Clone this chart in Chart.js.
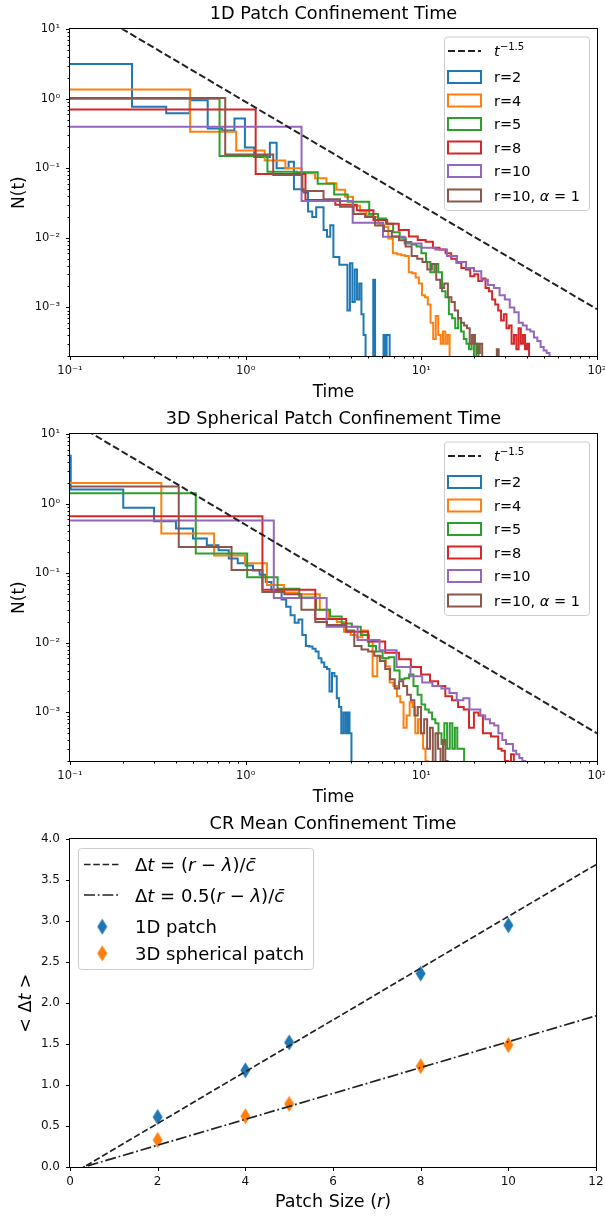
<!DOCTYPE html>
<html>
<head>
<meta charset="utf-8">
<script src="https://cdn.jsdelivr.net/npm/chart.js@4.4.1/dist/chart.umd.min.js"></script>
<style>
  body { margin: 0; background: #fff; }
  .panel { position: absolute; left: 0; width: 605px; }
</style>
</head>
<body>
<div class="panel" style="top:0;height:405px"><canvas id="Chart1D"></canvas></div>
<div class="panel" style="top:405px;height:405px"><canvas id="Chart3D"></canvas></div>
<div class="panel" style="top:810px;height:406px"><canvas id="ChartMean"></canvas></div>
<script>
// ---- data ----
var seriesLabels = ['r=2', 'r=4', 'r=5', 'r=8', 'r=10', 'r=10, α=1'];
var seriesColors = ['#1f77b4', '#ff7f0e', '#2ca02c', '#d62728', '#9467bd', '#8c564b'];

// 1D patch: histogram bin start / bin width per series, then bin heights
var start1D = [0.098, 0.083, 0.09, 0.09, 0.095, 0.095];
var width1D = [0.1275, 0.4, 0.62, 1.05, 1.985, 0.67];
var n1D_r2 = [3.16, 0.77, 0.62, 0.95, 0.375, 0.35, 0.52, 0.2, 0.146, 0.146, 0.233, 0.1, 0.1, 0.124, 0.05, 0.05, 0.045, 0.024, 0.02, 0.0275, 0.0275, 0.013, 0.0104, 0.0152, 0.0053, 0.0053, 0.0041, 0.0041, 0.0041, 0.0009, 0.0043, 0.0012, 0.0035, 0.0013, 0.0022, 0.0008, 0.0004, 0, 0, 0, 0, 0.0025, 0, 0, 0, 0, 0, 0.0004, 0, 0.0004, 0.0004];
var n1D_r4 = [1.36, 0.335, 0.18, 0.13, 0.1, 0.085, 0.072, 0.061, 0.049, 0.039, 0.029, 0.024, 0.021, 0.02, 0.016, 0.0145, 0.0098, 0.006, 0.0058, 0.0056, 0.0055, 0.0032, 0.0031, 0.0027, 0.0022, 0.0015, 0.0014, 0.0011, 0.0006, 0.00035, 0.00075, 0.0004, 0.0003, 0.00045, 0.0003, 0.0004];
var n1D_r5 = [1.0, 0.15, 0.089, 0.088, 0.06, 0.042, 0.033, 0.033, 0.022, 0.019, 0.016, 0.012, 0.01, 0.0087, 0.008, 0.0075, 0.006, 0.0045, 0.0032, 0.0042, 0.0032, 0.0017, 0.0014, 0.0008, 0.0007, 0.0005, 0.0007, 0.00045, 0.00035, 0.0003, 0.00025, 0.0004, 0, 0.0003];
var n1D_r8 = [0.70, 0.083, 0.035, 0.03, 0.025, 0.018, 0.016, 0.013, 0.0105, 0.0093, 0.0088, 0.0072, 0.0068, 0.006, 0.005, 0.0044, 0.0037, 0.0035, 0.0028, 0.003, 0.0024, 0.0026, 0.0019, 0.0017, 0.0013, 0.0011, 0.0009, 0.00065, 0.0008, 0.0005, 0.00055, 0.0003, 0.0004, 0.00025, 0.0005, 0.0003, 0.0004, 0.00025, 0.0003];
var n1D_r10 = [0.395, 0.034, 0.0165, 0.0104, 0.0083, 0.0072, 0.0068, 0.0055, 0.0045, 0.0037, 0.0033, 0.0025, 0.0021, 0.0019, 0.0015, 0.0013, 0.001, 0.00085, 0.0006, 0.00055, 0.00048, 0.00045, 0.00037, 0.00033, 0.00027, 0.00024, 0.00022];
var n1D_r10a = [1.03, 0.158, 0.08, 0.047, 0.036, 0.028, 0.022, 0.02, 0.015, 0.0125, 0.0105, 0.0092, 0.0075, 0.0055, 0.005, 0.0045, 0.0035, 0.0042, 0.0025, 0.0019, 0.0022, 0.0014, 0.0012, 0.0009, 0.0007, 0.0006, 0.00055, 0.0005, 0.0003, 0.0004, 0.0003, 0.00022, 0.0003, 0, 0, 0, 0, 0, 0, 0, 0.00025];

// 3D spherical patch
var start3D = [0.001, 0.001, 0.02, 0.001, 0.001, 0.001];
var width3D = [0.1, 0.33, 0.5, 1.245, 1.445, 0.415];
var n3D_r2 = [4.9, 1.6, 0.88, 0.56, 0.44, 0.316, 0.254, 0.215, 0.164, 0.139, 0.13, 0.11, 0.095, 0.075, 0.058, 0.055, 0.042, 0.033, 0.025, 0.0194, 0.0216, 0.013, 0.009, 0.0089, 0.0082, 0.0075, 0.006, 0.0052, 0.0045, 0.0042, 0.002, 0.0037, 0.0033, 0.0016, 0.0012, 0.0005, 0.001, 0.0005, 0.001, 0.0005];
var n3D_r4 = [1.99, 0.373, 0.18, 0.14, 0.068, 0.053, 0.05, 0.05, 0.03, 0.022, 0.02, 0.0145, 0.013, 0.012, 0.015, 0.0105, 0.0033, 0.0064, 0.006, 0.0046, 0.0027, 0.0024, 0.0017, 0.0014, 0.0006, 0.0009, 0.0014, 0.0012, 0.0005, 0.0008, 0.0005, 0.0003, 0.0002];
var n3D_r5 = [1.42, 0.193, 0.088, 0.06, 0.045, 0.03, 0.024, 0.019, 0.017, 0.013, 0.009, 0.0075, 0.006, 0.0062, 0.004, 0.003, 0.0031, 0.0035, 0.0024, 0.0018, 0.0013, 0.0011, 0.001, 0.0008, 0.0007, 0.0005, 0.00035, 0.0007, 0.0003, 0.0007, 0.0003, 0.0006, 0.0003, 0.0003, 0.0003];
var n3D_r8 = [0.66, 0.058, 0.022, 0.0145, 0.0105, 0.0072, 0.0058, 0.0045, 0.0035, 0.0028, 0.0024, 0.0017, 0.0015, 0.0012, 0.0011, 0.0006, 0.001, 0.0009, 0.0005, 0.0005, 0.00045, 0.00045, 0.0003, 0.00028, 0.0002, 0, 0.00025];
var n3D_r10 = [0.577, 0.044, 0.017, 0.011, 0.0078, 0.0045, 0.0033, 0.0027, 0.0024, 0.0022, 0.0019, 0.0015, 0.0016, 0.0011, 0.0011, 0.0009, 0.0008, 0.0007, 0.00065, 0.0005, 0.0004, 0.00035, 0.00035, 0.00028, 0.00025, 0.00022, 0.0002];
var n3D_r10a = [1.77, 0.24, 0.112, 0.054, 0.05, 0.03, 0.02, 0.018, 0.018, 0.015, 0.009, 0.008, 0.0075, 0.0065, 0.0055, 0.0042, 0.003, 0.0022, 0.0028, 0.0024, 0.0018, 0.0015, 0.0009, 0.0012, 0.0005, 0.0008, 0.0003, 0.0006, 0, 0.0005, 0.0003, 0, 0.0004, 0.0002];

// t^-1.5 guide line (end points)
var guideT = [0.1, 100];
var guide1D = [28, 0.00094];
var guide3D = [15.7, 0.0005];

// mean confinement time
var patchR = [2, 4, 5, 8, 10];
var mean1D = [0.61, 1.18, 1.52, 2.36, 2.95];
var mean3D = [0.33, 0.62, 0.77, 1.23, 1.49];
var fitR = [0, 12];
var fit1D = [-0.1, 3.69];
var fit3D = [-0.05, 1.845];

// tick labels
var logXTicks = [0.1, 1, 10, 100];
var logYTicks = [0.001, 0.01, 0.1, 1, 10];

// ---- helpers ----
var FONT = 'DejaVu Sans';
var FLOOR = 1e-7;
Chart.defaults.font.family = FONT;

function sup(n) {
  var m = {'-': '⁻', '0': '⁰', '1': '¹', '2': '²', '3': '³', '4': '⁴'};
  return String(n).split('').map(function (c) { return m[c]; }).join('');
}
function isLabelled(v, list) {
  return list.some(function (t) { return Math.abs(t - v) / t < 1e-6; });
}
function logTickValues(lo, hi) {
  var out = [];
  for (var e = Math.floor(Math.log10(lo)); e <= Math.ceil(Math.log10(hi)); e++) {
    for (var m = 1; m < 10; m++) {
      var v = m * Math.pow(10, e);
      if (v >= lo * 0.999 && v <= hi * 1.001) out.push(v);
    }
  }
  return out;
}
function stepPoints(start, width, counts) {
  var pts = [{x: start, y: FLOOR}];
  counts.forEach(function (c, i) {
    pts.push({x: start + i * width, y: c > 0 ? c : FLOOR});
  });
  pts.push({x: start + counts.length * width, y: FLOOR});
  return pts;
}
function diamondMarker(color) {
  var c = document.createElement('canvas');
  c.width = 11; c.height = 17;
  var g = c.getContext('2d');
  g.fillStyle = color;
  g.beginPath();
  g.moveTo(5.5, 0.5); g.lineTo(10.5, 8.5); g.lineTo(5.5, 16.5); g.lineTo(0.5, 8.5);
  g.closePath(); g.fill();
  return c;
}
function runFont(style, size) {
  var s = style === 'sup' ? size * 0.7 : size;
  return (style === 'i' ? 'italic ' : '') + s + 'px "' + FONT + '"';
}
function drawRuns(ctx, runs, x, y, size, align) {
  var w = 0;
  runs.forEach(function (r) { ctx.font = runFont(r[1], size); w += ctx.measureText(r[0]).width; });
  var cx = align === 'center' ? x - w / 2 : x;
  ctx.textAlign = 'left';
  ctx.textBaseline = 'alphabetic';
  runs.forEach(function (r) {
    ctx.font = runFont(r[1], size);
    ctx.fillText(r[0], cx, r[1] === 'sup' ? y - size * 0.42 : y);
    cx += ctx.measureText(r[0]).width;
  });
}

// frame, tick marks, axis titles and legend drawn on top of the chart
function makeDecor(cfg) {
  return {
    id: 'decor',
    afterDraw: function (chart) {
      var ctx = chart.ctx, a = chart.chartArea;
      ctx.save();
      ctx.strokeStyle = '#000';
      ctx.lineWidth = 1;
      ctx.setLineDash([]);
      var L = Math.round(a.left) - 0.5, R = Math.round(a.right) + 0.5;
      var T = Math.round(a.top) - 0.5, B = Math.round(a.bottom) + 0.5;
      ctx.strokeRect(L, T, R - L, B - T);
      Object.keys(chart.scales).forEach(function (k) {
        var s = chart.scales[k];
        s.ticks.forEach(function (t) {
          var major = t.label !== '' && t.label !== undefined;
          var len = major ? 3.5 : 2;
          var p = Math.round(s.getPixelForValue(t.value)) + 0.5;
          ctx.beginPath();
          if (s.isHorizontal()) { ctx.moveTo(p, B); ctx.lineTo(p, B + len); }
          else { ctx.moveTo(L - len, p); ctx.lineTo(L, p); }
          ctx.stroke();
        });
      });
      ctx.fillStyle = '#000';
      drawRuns(ctx, cfg.xTitle, (a.left + a.right) / 2, cfg.xTitleY, cfg.titleSize, 'center');
      ctx.save();
      ctx.translate(cfg.yTitleX, (a.top + a.bottom) / 2);
      ctx.rotate(-Math.PI / 2);
      drawRuns(ctx, cfg.yTitle, 0, 0, cfg.titleSize, 'center');
      ctx.restore();

      var lg = cfg.legend, b = lg.box;
      ctx.beginPath();
      ctx.roundRect(b[0] + 0.5, b[1] + 0.5, b[2], b[3], 3);
      ctx.fillStyle = 'rgba(255,255,255,0.8)';
      ctx.fill();
      ctx.strokeStyle = '#cccccc';
      ctx.stroke();
      lg.items.forEach(function (it) {
        ctx.save();
        if (it.kind === 'line') {
          ctx.strokeStyle = it.color;
          ctx.lineWidth = it.width;
          ctx.setLineDash(it.dash);
          ctx.beginPath();
          ctx.moveTo(lg.handle[0], it.y); ctx.lineTo(lg.handle[1], it.y);
          ctx.stroke();
        } else if (it.kind === 'patch') {
          ctx.strokeStyle = it.color;
          ctx.lineWidth = 2;
          ctx.fillStyle = '#fff';
          ctx.fillRect(lg.handle[0], it.y - 6, lg.handle[1] - lg.handle[0], 12);
          ctx.strokeRect(lg.handle[0], it.y - 6, lg.handle[1] - lg.handle[0], 12);
        } else {
          var img = it.image;
          ctx.drawImage(img, (lg.handle[0] + lg.handle[1]) / 2 - img.width / 2, it.y - img.height / 2);
        }
        ctx.restore();
        ctx.fillStyle = '#000';
        drawRuns(ctx, it.runs, lg.textX, it.y + lg.size * 0.365, lg.size, 'left');
      });
      ctx.restore();
    }
  };
}

function fixedScale(extra, isX) {
  var base = {
    grid: {display: false, drawTicks: false},
    border: {display: false},
    ticks: {autoSkip: false, maxRotation: 0, minRotation: 0, color: '#111',
            font: {family: FONT, size: 11.5}, padding: isX ? 8 : 10},
    afterFit: function (s) {
      if (isX) s.height = 49; else s.width = 70;
      s.paddingLeft = 0; s.paddingRight = 0; s.paddingTop = 0; s.paddingBottom = 0;
    }
  };
  return Object.assign(base, extra);
}

function logScale(lo, hi, labelled, isX) {
  var vals = logTickValues(lo, hi);
  var sc = fixedScale({
    type: 'logarithmic', min: lo, max: hi,
    afterBuildTicks: function (s) { s.ticks = vals.map(function (v) { return {value: v}; }); }
  }, isX);
  sc.ticks.callback = function (v) {
    return isLabelled(v, labelled) ? '10' + sup(Math.round(Math.log10(v))) : '';
  };
  return sc;
}

function histLegendItems() {
  var items = [{kind: 'line', color: '#222', width: 2, dash: [7, 3], y: 51, runs: [['t', 'i'], ['−1.5', 'sup']]}];
  var rows = [77, 100.5, 124, 147.5, 171, 195.5];
  seriesLabels.forEach(function (lab, i) {
    var runs = lab.indexOf('α') >= 0 ? [['r=10, ', 'n'], ['α', 'i'], [' = 1', 'n']] : [[lab, 'n']];
    items.push({kind: 'patch', color: seriesColors[i], y: rows[i], runs: runs});
  });
  return items;
}

function histChart(id, title, starts, widths, counts, guideY) {
  var datasets = [{
    data: guideT.map(function (t, i) { return {x: t, y: guideY[i]}; }),
    borderColor: '#222', borderWidth: 2, borderDash: [7, 3], pointRadius: 0, order: 0
  }];
  counts.forEach(function (c, i) {
    datasets.push({
      data: stepPoints(starts[i], widths[i], c),
      borderColor: seriesColors[i], borderWidth: 2, pointRadius: 0, stepped: true,
      borderJoinStyle: 'miter', fill: false, order: 6 - i
    });
  });
  var el = document.getElementById(id);
  if (el) {
    new Chart(el.getContext('2d'), {
      type: 'line',
      data: {datasets: datasets},
      options: {
        responsive: true, maintainAspectRatio: false, animation: false, devicePixelRatio: 1,
        events: [],
        layout: {padding: {left: 0, right: 8, top: 0, bottom: 0}},
        scales: {
          x: logScale(0.1, 100, logXTicks, true),
          y: logScale(2e-4, 10, logYTicks, false)
        },
        plugins: {
          legend: {display: false}, tooltip: {enabled: false},
          title: {display: true, text: title, fullSize: false, color: '#000',
                  font: {family: FONT, size: 17.7, weight: 'normal', lineHeight: 1.2},
                  padding: {top: 4, bottom: 4}}
        }
      },
      plugins: [makeDecor({
        xTitle: [['Time', 'n']], xTitleY: 397, yTitle: [['N(t)', 'n']], yTitleX: 23.5, titleSize: 17,
        legend: {box: [444, 36.5, 145, 173.5], size: 14.5, textX: 494, handle: [448, 481], items: histLegendItems()}
      })]
    });
  }
}

histChart('Chart1D', '1D Patch Confinement Time', start1D, width1D,
  [n1D_r2, n1D_r4, n1D_r5, n1D_r8, n1D_r10, n1D_r10a], guide1D);
histChart('Chart3D', '3D Spherical Patch Confinement Time', start3D, width3D,
  [n3D_r2, n3D_r4, n3D_r5, n3D_r8, n3D_r10, n3D_r10a], guide3D);

// ---- mean confinement time ----
var blueDiamond = diamondMarker('#1f77b4');
var orangeDiamond = diamondMarker('#ff7f0e');
var chartMean = document.getElementById('ChartMean');
if (chartMean) {
  var xs = fixedScale({type: 'linear', min: 0, max: 12}, true);
  xs.ticks.stepSize = 2;
  xs.ticks.font = {family: FONT, size: 12};
  var ys = fixedScale({type: 'linear', min: 0, max: 4}, false);
  ys.ticks.stepSize = 0.5;
  ys.ticks.font = {family: FONT, size: 12};
  ys.ticks.callback = function (v) { return v.toFixed(1); };
  new Chart(chartMean.getContext('2d'), {
    type: 'scatter',
    data: {
      datasets: [
        {type: 'line', data: fitR.map(function (r, i) { return {x: r, y: fit1D[i]}; }),
         borderColor: '#222', borderWidth: 1.7, borderDash: [6.5, 2.8], pointRadius: 0, order: 0},
        {type: 'line', data: fitR.map(function (r, i) { return {x: r, y: fit3D[i]}; }),
         borderColor: '#222', borderWidth: 1.7, borderDash: [11, 2.8, 1.8, 2.8], pointRadius: 0, order: 0},
        {data: patchR.map(function (r, i) { return {x: r, y: mean1D[i]}; }),
         pointStyle: blueDiamond, pointRadius: 8, order: 1},
        {data: patchR.map(function (r, i) { return {x: r, y: mean3D[i]}; }),
         pointStyle: orangeDiamond, pointRadius: 8, order: 1}
      ]
    },
    options: {
      responsive: true, maintainAspectRatio: false, animation: false, devicePixelRatio: 1,
      events: [],
      layout: {padding: {left: 0, right: 8, top: 0, bottom: 0}},
      scales: {x: xs, y: ys},
      plugins: {
        legend: {display: false}, tooltip: {enabled: false},
        title: {display: true, text: 'CR Mean Confinement Time', fullSize: false, color: '#000',
                font: {family: FONT, size: 17.7, weight: 'normal', lineHeight: 1.2},
                padding: {top: 4, bottom: 4}}
      }
    },
    plugins: [makeDecor({
      xTitle: [['Patch Size (', 'n'], ['r', 'i'], [')', 'n']], xTitleY: 396.5,
      yTitle: [['< Δ', 'n'], ['t', 'i'], [' >', 'n']], yTitleX: 31, titleSize: 17.5,
      legend: {box: [78, 38, 235, 121], size: 18, textX: 135, handle: [84, 120.5], items: [
        {kind: 'line', color: '#222', width: 1.7, dash: [6.5, 2.8], y: 54.5,
         runs: [['Δ', 'n'], ['t', 'i'], [' = (', 'n'], ['r', 'i'], [' − ', 'n'], ['λ', 'i'], [')/', 'n'], ['c̄', 'i']]},
        {kind: 'line', color: '#222', width: 1.7, dash: [11, 2.8, 1.8, 2.8], y: 85,
         runs: [['Δ', 'n'], ['t', 'i'], [' = 0.5(', 'n'], ['r', 'i'], [' − ', 'n'], ['λ', 'i'], [')/', 'n'], ['c̄', 'i']]},
        {kind: 'marker', image: blueDiamond, y: 116.7, runs: [['1D patch', 'n']]},
        {kind: 'marker', image: orangeDiamond, y: 143.3, runs: [['3D spherical patch', 'n']]}
      ]}
    })]
  });
}
</script>
</body>
</html>
